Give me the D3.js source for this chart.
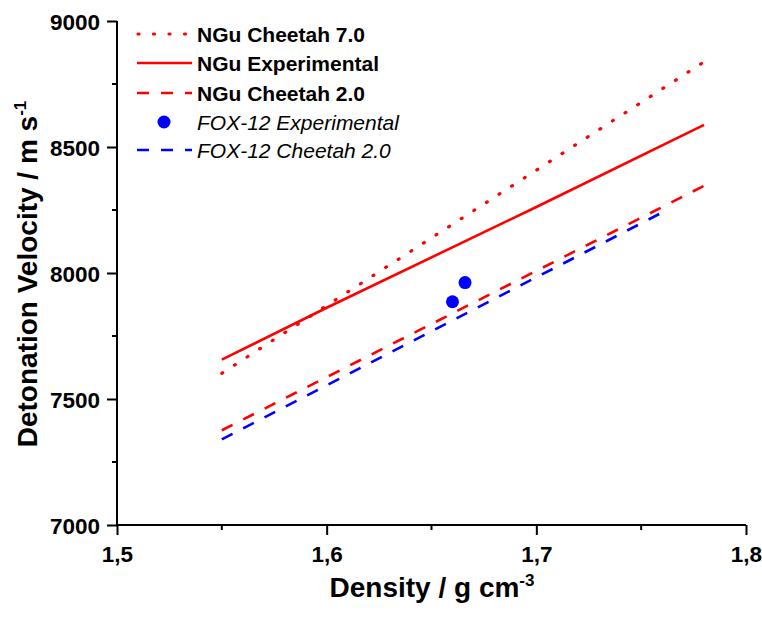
<!DOCTYPE html>
<html>
<head>
<meta charset="utf-8">
<script src="https://cdn.jsdelivr.net/npm/d3@7"></script>
<style>
  html, body { margin: 0; padding: 0; background: #fff; }
  svg { display: block; font-family: "Liberation Sans", Arial, sans-serif; }
</style>
</head>
<body>
<svg id="chart" width="762" height="619"></svg>
<script>
// ---- data ----
const xTicks = [1.5, 1.6, 1.7, 1.8];
const yTicks = [7000, 7500, 8000, 8500, 9000];
const xTickLabels = ["1,5", "1,6", "1,7", "1,8"];
const yTickLabels = ["7000", "7500", "8000", "8500", "9000"];

const nguCheetah70 = [[1.55, 7602], [1.78, 8838]];
const nguExperimental = [[1.55, 7656], [1.6, 7862], [1.7, 8262], [1.78, 8588]];
const nguCheetah20 = [[1.55, 7376], [1.78, 8346]];
const fox12Experimental = [[1.660, 7886], [1.666, 7962]];
const fox12Cheetah20 = [[1.55, 7340], [1.76, 8240]];

const legendLabels = ["NGu Cheetah 7.0", "NGu Experimental", "NGu Cheetah 2.0", "FOX-12 Experimental", "FOX-12 Cheetah 2.0"];

// ---- layout ----
const svg = d3.select("#chart");
const x = d3.scaleLinear().domain([1.5, 1.8]).range([117, 746]);
const y = d3.scaleLinear().domain([7000, 9000]).range([525, 21]);

const RED = "#ff0000", BLUE = "#0000ff";

// axes
const xAxis = d3.axisBottom(x).tickValues(xTicks).tickSize(10)
  .tickFormat((d, i) => xTickLabels[i]);
const gx = svg.append("g").attr("transform", `translate(0,${y(7000)})`).call(xAxis);
const yAxis = d3.axisLeft(y).tickValues(yTicks).tickSize(10)
  .tickFormat((d, i) => yTickLabels[i]);
const gy = svg.append("g").attr("transform", `translate(${x(1.5)},0)`).call(yAxis);

[gx, gy].forEach(g => {
  g.select(".domain").attr("stroke", "#000").attr("stroke-width", 2);
  g.selectAll(".tick line").attr("stroke", "#000").attr("stroke-width", 2);
  g.selectAll(".tick text").attr("fill", "#000").style("font-size", "22.5px").style("font-weight", "bold");
});
gx.selectAll(".tick text").attr("dy", "0.71em").attr("y", 21);
gy.selectAll(".tick text").attr("x", -17).attr("dy", "0.36em");
gx.select(".domain").attr("d", `M${x(1.5)},0H${x(1.8)}`);
gy.select(".domain").attr("d", `M0,${y(9000)}V${y(7000)}`);

// minor ticks
const xMinor = [1.55, 1.65, 1.75];
const yMinor = [7250, 7750, 8250, 8750];
svg.append("g").selectAll("line").data(xMinor).join("line")
  .attr("x1", d => x(d)).attr("x2", d => x(d))
  .attr("y1", y(7000)).attr("y2", y(7000) + 5)
  .attr("stroke", "#000").attr("stroke-width", 2);
svg.append("g").selectAll("line").data(yMinor).join("line")
  .attr("y1", d => y(d)).attr("y2", d => y(d))
  .attr("x1", x(1.5)).attr("x2", x(1.5) - 5)
  .attr("stroke", "#000").attr("stroke-width", 2);

// lines
const line = d3.line().x(d => x(d[0])).y(d => y(d[1]));
const styles = {
  dotted: { dash: "1,14", width: 3.2, cap: "round" },
  solid: { dash: null, width: 2.6, cap: "butt" },
  dashed: { dash: "12,12", width: 2.6, cap: "butt" }
};
function drawLine(data, color, st) {
  svg.append("path").datum(data).attr("d", line)
    .attr("fill", "none").attr("stroke", color)
    .attr("stroke-width", st.width)
    .attr("stroke-dasharray", st.dash)
    .attr("stroke-linecap", st.cap === "round" ? "round" : "butt");
}
drawLine(nguCheetah70, RED, styles.dotted);
drawLine(nguExperimental, RED, styles.solid);
drawLine(nguCheetah20, RED, styles.dashed);
drawLine(fox12Cheetah20, BLUE, styles.dashed);
svg.append("g").selectAll("circle").data(fox12Experimental).join("circle")
  .attr("cx", d => x(d[0])).attr("cy", d => y(d[1])).attr("r", 6.5).attr("fill", BLUE);

// legend
const legendRows = [
  { label: legendLabels[0], color: RED, st: { dash: "1,14.5", width: 3.2, cap: "round" }, type: "line", bold: true },
  { label: legendLabels[1], color: RED, st: styles.solid, type: "line", bold: true },
  { label: legendLabels[2], color: RED, st: styles.dashed, type: "line", bold: true },
  { label: legendLabels[3], color: BLUE, type: "dot", bold: false },
  { label: legendLabels[4], color: BLUE, st: styles.dashed, type: "line", bold: false }
];
const rowY = [34, 63, 93, 122, 150];
legendRows.forEach((r, i) => {
  const cy = rowY[i];
  if (r.type === "line") {
    const x1 = r.st.cap === "round" ? 138 : 137;
    svg.append("line").attr("x1", x1).attr("x2", 192).attr("y1", cy).attr("y2", cy)
      .attr("stroke", r.color).attr("stroke-width", r.st.width)
      .attr("stroke-dasharray", r.st.dash)
      .attr("stroke-linecap", r.st.cap === "round" ? "round" : "butt");
  } else {
    svg.append("circle").attr("cx", 164).attr("cy", cy).attr("r", 6.5).attr("fill", r.color);
  }
  svg.append("text").attr("x", 197).attr("y", cy + 7.5)
    .style("font-size", "21px")
    .style("font-weight", r.bold ? "bold" : "normal")
    .style("font-style", r.bold ? "normal" : "italic")
    .attr("fill", "#000")
    .text(r.label);
});

// axis titles
const xt = svg.append("text").attr("x", 432).attr("y", 597).attr("text-anchor", "middle")
  .style("font-size", "28px").style("font-weight", "bold").attr("fill", "#000");
xt.append("tspan").text("Density / g cm");
xt.append("tspan").attr("dy", -11).style("font-size", "17px").text("-3");

const yt = svg.append("text").attr("transform", "translate(37,274) rotate(-90)")
  .attr("text-anchor", "middle")
  .style("font-size", "28px").style("font-weight", "bold").attr("fill", "#000");
yt.append("tspan").text("Detonation Velocity / m s");
yt.append("tspan").attr("dy", -11).style("font-size", "17px").text("-1");
</script>
</body>
</html>
